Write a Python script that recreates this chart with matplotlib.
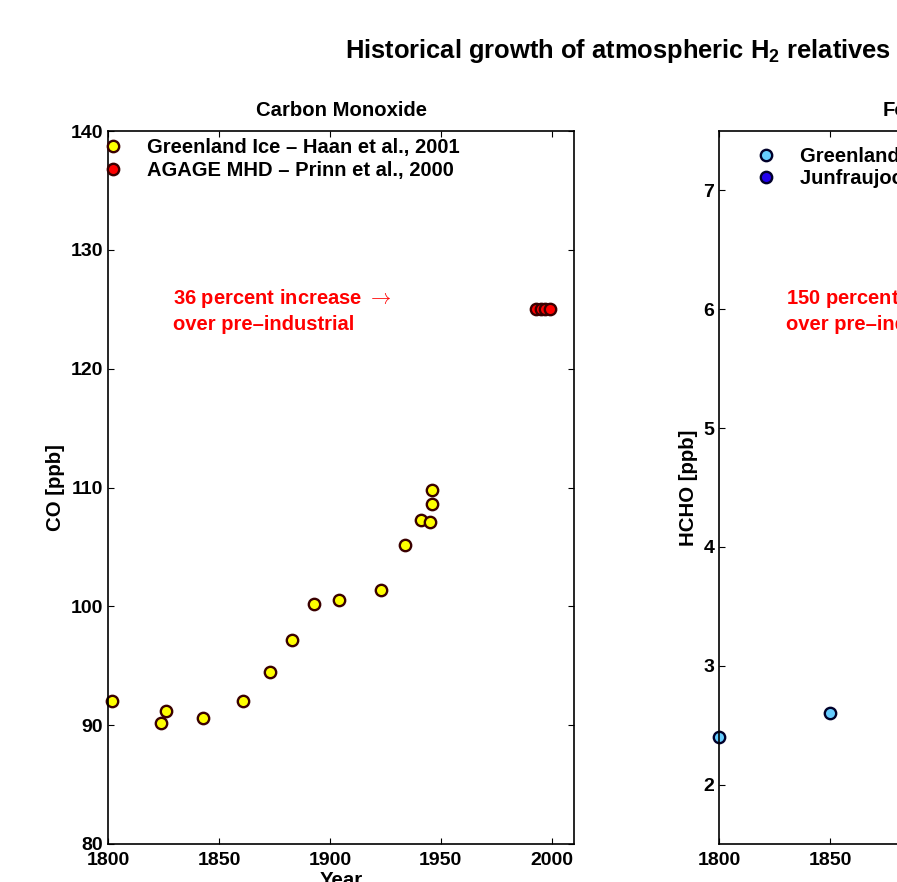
import matplotlib
matplotlib.use("Agg")
import matplotlib.pyplot as plt

plt.rcParams['font.family'] = ['Liberation Sans', 'DejaVu Sans']
plt.rcParams['font.weight'] = 'bold'
plt.rcParams['mathtext.fontset'] = 'custom'
plt.rcParams['mathtext.bf'] = 'Liberation Sans:bold'
plt.rcParams['mathtext.rm'] = 'Liberation Sans:bold'

# Carbon monoxide (ppb)
co_ice_years = [1802, 1824, 1826, 1843, 1861, 1873, 1883, 1893, 1904, 1923,
                1934, 1941, 1945, 1946, 1946]
co_ice_vals = [92.0, 90.2, 91.2, 90.6, 92.0, 94.5, 97.2, 100.2, 100.5, 101.4,
               105.2, 107.3, 107.1, 108.6, 109.8]
co_agage_years = [1993, 1995, 1997, 1999]
co_agage_vals = [125.0, 125.0, 125.0, 125.0]

# Formaldehyde (ppb)
hcho_ice_years = [1800, 1850]
hcho_ice_vals = [2.4, 2.6]
hcho_jfj_years = []
hcho_jfj_vals = []

year_ticks = [1800, 1850, 1900, 1950, 2000]
co_ticks = [80, 90, 100, 110, 120, 130, 140]
hcho_ticks = [2, 3, 4, 5, 6, 7]

W, H = 897, 882
fig = plt.figure(figsize=(W / 100, H / 100), dpi=100)


def box(x0, y0, x1, y1):
    return [x0 / W, 1 - y1 / H, (x1 - x0) / W, (y1 - y0) / H]


def style(ax, yticks):
    ax.set_xlim(1800, 2010)
    ax.set_xticks(year_ticks)
    ax.set_yticks(yticks)
    ax.tick_params(direction='in', length=4.5, width=0.8, top=True, right=True,
                   labelsize=14)
    ax.tick_params(axis='y', pad=3.5)
    ax.tick_params(axis='x', pad=5.5)
    for s in ax.spines.values():
        s.set_linewidth(1.2)


mk = dict(marker='o', linestyle='none', markersize=8.2, markeredgewidth=1.7,
          clip_on=False)
leg_kw = dict(loc='upper left', frameon=False, fontsize=14.5, handlelength=1.0,
              handletextpad=1.19, labelspacing=0.18, borderpad=0, borderaxespad=0)

# left panel
ax1 = fig.add_axes(box(108, 131, 574, 844))
ax1.plot(co_ice_years, co_ice_vals, markerfacecolor='#ffff00',
         markeredgecolor='#3a0000', label='Greenland Ice \u2013 Haan et al., 2001', **mk)
ax1.plot(co_agage_years, co_agage_vals, markerfacecolor='#ff0000',
         markeredgecolor='#3a0000', label='AGAGE MHD \u2013 Prinn et al., 2000', **mk)
ax1.set_ylim(80, 140)
style(ax1, co_ticks)
ax1.set_title('Carbon Monoxide', fontsize=14.6, fontweight='bold', pad=11)
ax1.set_ylabel('CO [ppb]', fontsize=14.7, fontweight='bold', labelpad=4)
ax1.set_xlabel('Year', fontsize=14.7, fontweight='bold', labelpad=2)
ax1.legend(bbox_to_anchor=(-0.0107, 0.990), **leg_kw)
ax1.text(0.139, 0.748, '36 percent increase $\\rightarrow$\nover pre\u2013industrial',
         transform=ax1.transAxes, color='#ff0000', fontsize=14.5,
         fontweight='bold', va='center', linespacing=1.33, math_fontfamily='cm')

# right panel (cut off by the figure edge)
ax2 = fig.add_axes(box(719, 131, 1185, 844))
ax2.plot(hcho_ice_years, hcho_ice_vals, markerfacecolor='#66ccff',
         markeredgecolor='#00002a', label='Greenland Ice \u2013 Staffelbach et al., 1991', **mk)
ax2.plot(hcho_jfj_years, hcho_jfj_vals, markerfacecolor='#2200ee',
         markeredgecolor='#00002a', label='Junfraujoch \u2013 Mahieu et al., 2004', **mk)
ax2.set_ylim(1.5, 7.5)
style(ax2, hcho_ticks)
ax2.set_title('Formaldehyde', fontsize=14.6, fontweight='bold', pad=11)
ax2.set_ylabel('HCHO [ppb]', fontsize=14.7, fontweight='bold', labelpad=4)
ax2.legend(bbox_to_anchor=(0.0794, 0.978), **leg_kw)
ax2.text(0.144, 0.748, '150 percent increase $\\rightarrow$\nover pre\u2013industrial',
         transform=ax2.transAxes, color='#ff0000', fontsize=14.5,
         fontweight='bold', va='center', linespacing=1.33, math_fontfamily='cm')

fig.text(345 / W, 1 - 51 / H,
         r'Historical growth of atmospheric H$_\mathbf{2}$ relatives (CO and HCHO)',
         fontsize=18.4, fontweight='bold', va='center', ha='left')

fig.savefig('out.png', dpi=100)
